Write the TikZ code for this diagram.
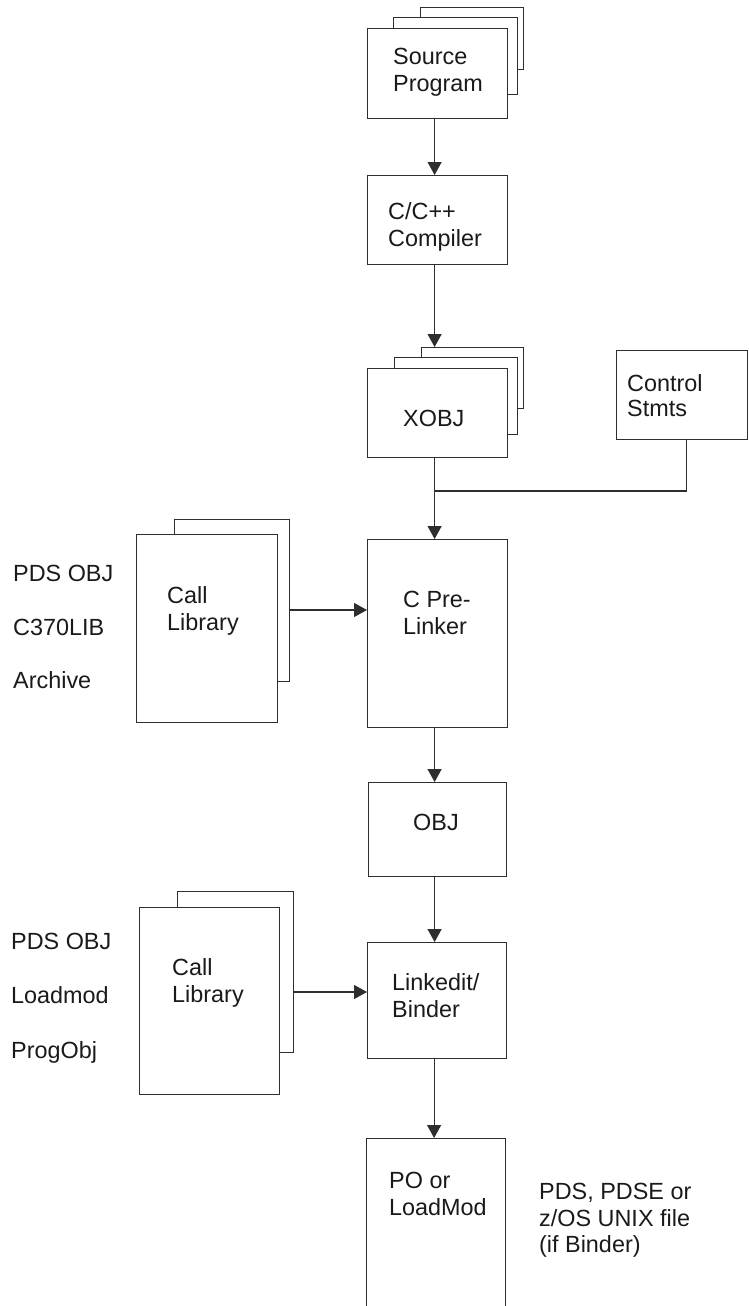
\documentclass[tikz,border=0pt]{standalone}
\usepackage{fontspec}
\setmainfont{Liberation Sans}
\usetikzlibrary{arrows.meta}
\definecolor{ln}{HTML}{2E2E2E}
\definecolor{tx}{HTML}{1A1A1A}
\begin{document}
\begin{tikzpicture}[x=1pt,y=-1pt,
  box/.style={draw=ln, line width=1.2pt, fill=white, inner sep=0pt, anchor=north west},
  lbl/.style={anchor=base west, inner sep=0pt, font=\fontsize{23.4}{27}\selectfont, text=tx},
  arr/.style={draw=ln, line width=1.2pt, -{Triangle[width=14pt,length=13pt]}},
  conn/.style={draw=ln, line width=1.2pt}]
\useasboundingbox (0,0) rectangle (749,1306);

% Source program stack
\node[box, minimum width=103pt, minimum height=62pt] (src3) at (420,7) {};
\node[box, minimum width=124pt, minimum height=77pt] (src2) at (393,17) {};
\node[box, minimum width=140pt, minimum height=90pt] (src) at (367,28) {};
\node[lbl] (tsrc1) at (393,64) {Source};
\node[lbl] (tsrc2) at (393,91) {Program};

% Compiler
\node[box, minimum width=140pt, minimum height=89pt] (cc) at (367,175) {};
\node[lbl] (tcc1) at (388,219) {C/C++};
\node[lbl] (tcc2) at (388,246) {Compiler};

% XOBJ stack
\node[box, minimum width=102pt, minimum height=61pt] (x3) at (421,347) {};
\node[box, minimum width=123pt, minimum height=77pt] (x2) at (394,357) {};
\node[box, minimum width=140pt, minimum height=89pt] (xobj) at (367,368) {};
\node[lbl] (txobj) at (403,426) {XOBJ};

% Control statements
\node[box, minimum width=131pt, minimum height=89pt] (ctl) at (616,350) {};
\node[lbl] (tctl1) at (627,391) {Control};
\node[lbl] (tctl2) at (627,416) {Stmts};

% C Pre-Linker
\node[box, minimum width=140pt, minimum height=188pt] (pre) at (367,539) {};
\node[lbl] (tpre1) at (403,607) {C Pre-};
\node[lbl] (tpre2) at (403,634) {Linker};

% Call library 1
\node[box, minimum width=115pt, minimum height=162pt] (lib1b) at (174,519) {};
\node[box, minimum width=141pt, minimum height=188pt] (lib1) at (136,534) {};
\node[lbl] (tlib1a) at (167,603) {Call};
\node[lbl] (tlib1b) at (167,630) {Library};
\node[lbl] (tl1a) at (13,581) {PDS OBJ};
\node[lbl] (tl1b) at (13,635) {C370LIB};
\node[lbl] (tl1c) at (13,688) {Archive};

% OBJ
\node[box, minimum width=138pt, minimum height=94pt] (obj) at (368,782) {};
\node[lbl] (tobj) at (413,830) {OBJ};

% Linkedit / Binder
\node[box, minimum width=139pt, minimum height=116pt] (lnk) at (367,942) {};
\node[lbl] (tlnk1) at (392,990) {Linkedit/};
\node[lbl] (tlnk2) at (392,1017) {Binder};

% Call library 2
\node[box, minimum width=116pt, minimum height=161pt] (lib2b) at (177,891) {};
\node[box, minimum width=140pt, minimum height=187pt] (lib2) at (139,907) {};
\node[lbl] (tlib2a) at (172,975) {Call};
\node[lbl] (tlib2b) at (172,1002) {Library};
\node[lbl] (tl2a) at (11,949) {PDS OBJ};
\node[lbl] (tl2b) at (11,1003) {Loadmod};
\node[lbl] (tl2c) at (11,1058) {ProgObj};

% PO or LoadMod (runs off the page)
\node[box, minimum width=139pt, minimum height=190pt] (po) at (366,1138) {};
\node[lbl] (tpo1) at (389,1188) {PO or};
\node[lbl] (tpo2) at (389,1215) {LoadMod};
\node[lbl] (tout1) at (539,1199) {PDS, PDSE or};
\node[lbl] (tout2) at (539,1226) {z/OS UNIX file};
\node[lbl] (tout3) at (539,1252) {(if Binder)};

% connectors
\coordinate (j) at (434,491);
\coordinate (r1) at (0,610);
\coordinate (r2) at (0,992);
\draw[arr] ([xshift=-3pt]src.south) -- ([xshift=-3pt]cc.north);
\draw[arr] ([xshift=-3pt]cc.south) -- ([xshift=-3pt]cc.south |- x3.north);
\draw[arr] ([xshift=-3pt]xobj.south) -- ([xshift=-3pt]pre.north);
\draw[conn] ([xshift=4.5pt]ctl.south) |- (j);
\draw[arr] (lib1b.east |- r1) -- (pre.west |- r1);
\draw[arr] ([xshift=-3pt]pre.south) -- ([xshift=-3pt]pre.south |- obj.north);
\draw[arr] ([xshift=-3pt]obj.south) -- ([xshift=-3pt]obj.south |- lnk.north);
\draw[arr] (lib2b.east |- r2) -- (lnk.west |- r2);
\draw[arr] ([xshift=-3pt]lnk.south) -- ([xshift=-3pt]lnk.south |- po.north);
\end{tikzpicture}
\end{document}
